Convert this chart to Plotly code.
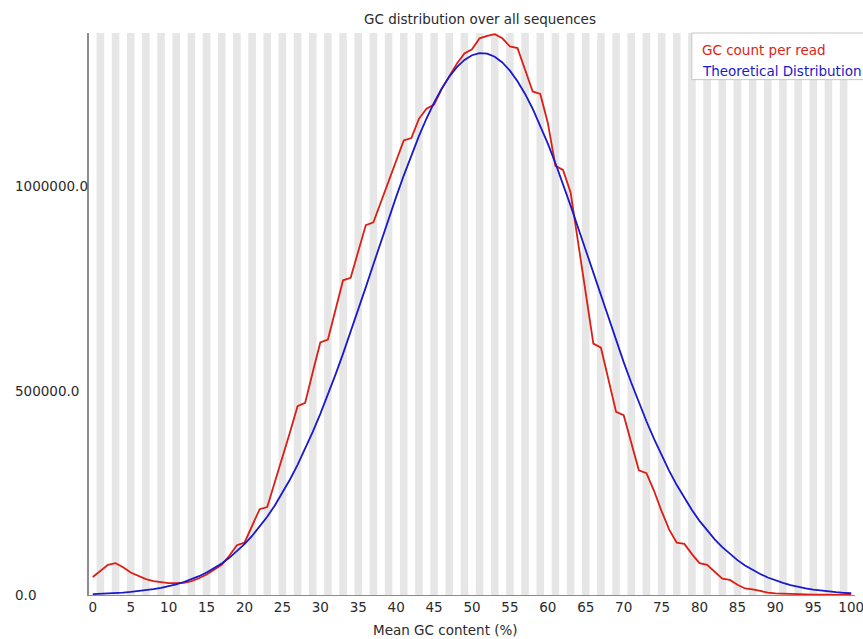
import plotly.graph_objects as go

# GC content bins (%) and per-bin read counts
gc_percent = list(range(0, 101))

gc_count_per_read = [
    44000, 60000, 74000, 78000, 68000, 55000, 46000, 39000, 34000, 31000,
    29000, 29000, 30000, 34000, 41000, 50000, 61000, 74000, 96000, 122000,
    128000, 168000, 210000, 215000, 275000, 332000, 398000, 462000, 470000, 545000,
    618000, 625000, 700000, 770000, 776000, 842000, 905000, 912000, 962000, 1015000,
    1065000, 1112000, 1118000, 1165000, 1190000, 1200000, 1238000, 1268000, 1300000, 1325000,
    1335000, 1362000, 1368000, 1372000, 1362000, 1342000, 1338000, 1285000, 1232000, 1226000,
    1155000, 1050000, 1040000, 985000, 865000, 740000, 615000, 605000, 525000, 448000,
    440000, 370000, 305000, 298000, 255000, 205000, 160000, 128000, 125000, 100000,
    78000, 74000, 58000, 40000, 37000, 25000, 16000, 14000, 10000, 6000,
    4000, 3000, 2000, 1500, 1000, 800, 600, 400, 300, 200, 100,
]

theoretical = [
    2300, 2900, 3700, 4700, 6000, 7500, 9300, 11600, 14300, 17600,
    21500, 26200, 31800, 38300, 46000, 55000, 65400, 77300, 91000, 106700,
    124400, 144400, 166700, 191500, 219200, 249400, 282600, 318500, 357400, 399000,
    443200, 490100, 539200, 590500, 643500, 697900, 753300, 809100, 865000, 920100,
    974100, 1026200, 1076000, 1122700, 1165800, 1204800, 1239000, 1268100, 1291500, 1309200,
    1320600, 1325700, 1324400, 1316800, 1302800, 1282900, 1257100, 1225900, 1189700, 1149100,
    1104500, 1056400, 1005600, 952600, 898100, 842700, 786700, 731000, 676000, 622200,
    569800, 519300, 471000, 425100, 381900, 341500, 303800, 268900, 236900, 207800,
    181400, 157500, 136200, 117100, 100200, 85300, 72400, 61000, 51300, 42800,
    35600, 29500, 24300, 19900, 16200, 13200, 10600, 8500, 6800, 5400, 4300,
]

x_tick_values = list(range(0, 101, 5))
y_tick_values = [0, 500000, 1000000]
y_tick_labels = ["0.0", "500000.0", "1000000.0"]

series_names = ["GC count per read", "Theoretical Distribution"]
series_colors = ["rgb(220,30,20)", "rgb(25,25,205)"]

chart_title = "GC distribution over all sequences"
x_title = "Mean GC content (%)"

FONT = "DejaVu Sans"
TEXT = "#2a2a2a"
FS = 13.5

fig = go.Figure()

fig.add_trace(go.Scatter(
    x=gc_percent, y=gc_count_per_read, mode="lines",
    name=series_names[0], line=dict(color=series_colors[0], width=1.8),
    showlegend=False,
))
fig.add_trace(go.Scatter(
    x=gc_percent, y=theoretical, mode="lines",
    name=series_names[1], line=dict(color=series_colors[1], width=1.8),
    showlegend=False,
))

# alternating background bands, one per GC bin (odd bins shaded)
shapes = []
for i in gc_percent:
    if i % 2 == 1:
        shapes.append(dict(
            type="rect", xref="x", yref="paper",
            x0=i - 0.5, x1=i + 0.5, y0=0, y1=1,
            fillcolor="rgb(230,230,230)", line=dict(width=0), layer="below",
        ))

# legend box in the top-right corner
shapes.append(dict(
    type="rect", xref="paper", yref="paper",
    x0=0.787, x1=1.03, y0=0.917, y1=1.0,
    fillcolor="white", line=dict(color="rgb(200,200,200)", width=1),
    layer="above",
))

annotations = []
# y tick labels, left aligned
for v, t in zip(y_tick_values, y_tick_labels):
    annotations.append(dict(
        x=-0.0992, xref="paper", y=v, yref="y", text=t, showarrow=False,
        xanchor="left", yanchor="middle",
        font=dict(family=FONT, size=FS, color=TEXT),
    ))

annotations.append(dict(
    x=0.51, xref="paper", y=1.0, yref="paper", yshift=14, text=chart_title,
    showarrow=False, xanchor="center", yanchor="middle",
    font=dict(family=FONT, size=FS, color=TEXT),
))
annotations.append(dict(
    x=0.465, xref="paper", y=0, yref="paper", yshift=-35, text=x_title,
    showarrow=False, xanchor="center", yanchor="middle",
    font=dict(family=FONT, size=FS, color=TEXT),
))

legend_y = [0.970, 0.933]
for name, color, ly in zip(series_names, series_colors, legend_y):
    annotations.append(dict(
        x=0.798, xref="paper", y=ly, yref="paper", text=name, showarrow=False,
        xanchor="left", yanchor="middle",
        font=dict(family=FONT, size=FS, color=color),
    ))

fig.update_layout(
    width=863, height=639,
    margin=dict(l=89, r=8, t=33, b=44),
    paper_bgcolor="white", plot_bgcolor="white",
    shapes=shapes, annotations=annotations,
    xaxis=dict(
        range=[-0.5, 100.5], tickmode="array", tickvals=x_tick_values,
        ticktext=[str(v) for v in x_tick_values],
        showgrid=False, zeroline=False, showline=True,
        linecolor="#8c8c8c", linewidth=1, ticks="",
        ticklabeloverflow="allow", automargin=False,
        tickfont=dict(family=FONT, size=FS, color=TEXT),
    ),
    yaxis=dict(
        range=[0, 1375000], showticklabels=False, showgrid=False,
        zeroline=False, showline=True, linecolor="#8c8c8c", linewidth=1.5,
        ticks="", automargin=False,
    ),
)

fig.write_html("out.html")
